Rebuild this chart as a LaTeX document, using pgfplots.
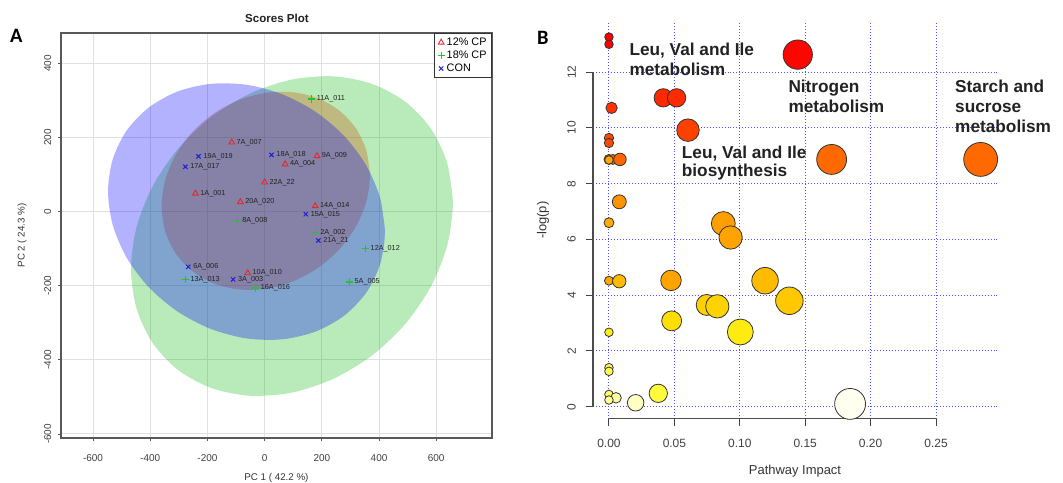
\documentclass[border=0pt]{standalone}
\usepackage{pgfplots}
\pgfplotsset{compat=1.18}
\usepackage{fontspec}
\setmainfont{Liberation Sans}
\newfontfamily\carlito{Carlito}
\definecolor{ellG}{RGB}{0,180,0}
\definecolor{ellR}{RGB}{200,80,10}
\definecolor{ellB}{RGB}{0,0,255}
\definecolor{mkR}{RGB}{230,40,40}
\definecolor{mkG}{RGB}{30,200,30}
\definecolor{mkB}{RGB}{30,30,220}
\definecolor{gridB}{RGB}{80,80,255}
\definecolor{txt}{RGB}{34,34,34}

\begin{document}
\begin{tikzpicture}
\path[use as bounding box] (0,0) rectangle (1063bp,483bp);

% ---------------- Panel A ----------------
\begin{axis}[
  at={(61bp,45bp)}, anchor=south west, scale only axis,
  width=431bp, height=405bp,
  xmin=-712, xmax=795, ymin=-611, ymax=482,
  xtick={-600,-400,-200,0,200,400,600}, ytick={-600,-400,-200,0,200,400},
  xticklabels={-600,-400,-200,0,200,400,600},
  yticklabels={-600,-400,-200,0,200,400},
  tick pos=left, tick align=outside, major tick length=3bp,
  tick style={black!65, line width=0.8pt},
  grid=major, major grid style={black!12, line width=0.9pt},
  axis line style={black!65, line width=1.2pt},
  ticklabel style={font=\fontsize{10}{12}\selectfont, text=black!75},
  xticklabel style={inner ysep=13pt},
  yticklabel style={rotate=90, anchor=south, inner ysep=6.5pt},
  xlabel={PC 1 ( 42.2 \%)}, ylabel={PC 2 ( 24.3 \%)},
  label style={font=\fontsize{9.8}{12}\selectfont, text=black!80},
  xlabel style={at={(axis description cs:0.5,-0.0988)}, anchor=center},
  ylabel style={at={(axis description cs:-0.0905,0.5)}, anchor=center},
  legend style={at={(1,1)}, anchor=north east, draw=black!80, line width=0.9pt,
    font=\fontsize{10.9}{12}\selectfont, inner xsep=3pt, inner ysep=2.5pt, row sep=0pt},
  legend cell align=left,
  legend image code/.code={\draw[#1] plot coordinates {(0.12cm,0cm)};},
  every node near coord/.append style={anchor=west, font=\fontsize{7.3}{8}\selectfont, text=txt, inner sep=0pt, xshift=4.5bp},
]
% green ellipse (18% CP)
\addplot[fill=ellG, fill opacity=0.275, draw=none, smooth, forget plot] coordinates {
(658.2,23.0) (639.0,129.3) (582.8,222.3) (493.4,295.6) (376.9,344.3) (241.1,365.0)
(95.5,356.4) (-50.1,319.0) (-185.9,255.3) (-302.4,169.8) (-391.8,68.1) (-448.0,-42.7)
(-467.2,-155.0) (-448.0,-261.3) (-391.8,-354.3) (-302.4,-427.6) (-185.9,-476.3) (-50.1,-497.0)
(95.5,-488.4) (241.1,-451.0) (376.9,-387.3) (493.4,-301.8) (582.8,-200.1) (639.0,-89.3)
(658.2,23.0) (639.0,129.3)};
% red ellipse (12% CP)
\addplot[fill=ellR, fill opacity=0.32, draw=none, smooth, forget plot] coordinates {
(368.2,97.6) (355.8,164.6) (319.4,224.2) (261.5,272.4) (186.1,305.9) (98.3,322.2)
(4.0,320.5) (-90.3,300.8) (-178.1,264.3) (-253.5,213.8) (-311.4,152.4) (-347.8,84.4)
(-360.2,14.6) (-347.8,-52.4) (-311.4,-112.0) (-253.5,-160.2) (-178.1,-193.7) (-90.3,-210.0)
(4.0,-208.3) (98.3,-188.6) (186.1,-152.1) (261.5,-101.6) (319.4,-40.2) (355.8,27.8)
(368.2,97.6) (355.8,164.6)};
% blue ellipse (CON)
\addplot[fill=ellB, fill opacity=0.3, draw=none, smooth, forget plot] coordinates {
(420.6,-54.5) (404.1,36.0) (355.7,124.0) (278.8,203.5) (178.6,269.1) (61.8,316.5)
(-63.5,342.3) (-188.8,344.7) (-305.6,323.7) (-405.8,280.5) (-482.7,218.4) (-531.1,141.2)
(-547.6,54.5) (-531.1,-36.0) (-482.7,-124.0) (-405.8,-203.5) (-305.6,-269.1) (-188.8,-316.5)
(-63.5,-342.3) (61.8,-344.7) (178.6,-323.7) (278.8,-280.5) (355.7,-218.4) (404.1,-141.2)
(420.6,-54.5) (404.1,36.0)};

\addplot[only marks, mark=triangle, mark size=3.3bp, mkR, mark options={line width=0.9pt},
  nodes near coords, point meta=explicit symbolic] coordinates {
(-115,187) [7A\_007]
(183,150) [9A\_009]
(72,128) [4A\_004]
(0,79) [22A\_22]
(-242,49) [1A\_001]
(-85,26) [20A\_020]
(177,15) [14A\_014]
(-59,-166) [10A\_010]
};
\addlegendentry{12\% CP}
\addplot[only marks, mark=+, mark size=3.6bp, mkG, mark options={line width=1.25pt},
  nodes near coords, point meta=explicit symbolic] coordinates {
(165,304) [11A\_011]
(-96,-25) [8A\_008]
(177,-57) [2A\_002]
(353,-100) [12A\_012]
(-277,-184) [13A\_013]
(297,-190) [5A\_005]
(-31,-206) [16A\_016]
};
\addlegendentry{18\% CP}
\addplot[only marks, mark=x, mark size=3bp, mkB, mark options={line width=1pt},
  nodes near coords, point meta=explicit symbolic] coordinates {
(-231,149) [19A\_019]
(24,153) [18A\_018]
(-277,121) [17A\_017]
(144,-7) [15A\_015]
(188,-78) [21A\_21]
(-267,-149) [6A\_006]
(-110,-183) [3A\_003]
};
\addlegendentry{CON}
\end{axis}

% ---------------- Panel B ----------------
\begin{axis}[
  at={(593bp,64.5bp)}, anchor=south west, scale only axis,
  width=404bp, height=396.5bp,
  xmin=-0.0122, xmax=0.2966, ymin=-0.423, ymax=13.8,
  clip=false,
  axis line style={draw=none},
  xtick={0,0.05,0.1,0.15,0.2,0.25},
  xticklabels={0.00,0.05,0.10,0.15,0.20,0.25},
  ytick={0,2,4,6,8,10,12}, yticklabels={0,2,4,6,8,10,12},
  tick pos=left, tick align=outside, major tick length=7bp,
  tick style={black!75, line width=1pt},
  grid=major, major grid style={gridB, line width=1pt, dash pattern=on 1pt off 2pt},
  ticklabel style={font=\fontsize{12}{14}\selectfont, text=black!75},
  xticklabel style={inner ysep=14pt},
  yticklabel style={rotate=90, anchor=south, inner ysep=10pt},
  xlabel={Pathway Impact}, ylabel={-log(p)},
  label style={font=\fontsize{13}{15}\selectfont, text=black!80},
  xlabel style={at={(axis description cs:0.5,-0.134)}, anchor=center},
  ylabel style={at={(axis description cs:-0.124,0.5)}, anchor=center},
  colormap={heat}{rgb255=(255,255,240) rgb255=(255,255,150) rgb255=(255,250,60)
    rgb255=(255,228,0) rgb255=(255,200,0) rgb255=(255,178,0) rgb255=(255,163,0)
    rgb255=(255,148,0) rgb255=(255,125,0) rgb255=(255,100,0) rgb255=(255,65,0)
    rgb255=(255,45,0) rgb255=(255,25,0) rgb255=(255,5,0) rgb255=(255,0,0)},
  point meta min=0, point meta max=14,
]
\draw[black!70, line width=1.2pt] (axis cs:0,-0.423) -- (axis cs:0.25,-0.423);
\draw[black!70, line width=1.2pt] (axis cs:-0.0122,0) -- (axis cs:-0.0122,12);
\addplot[scatter, only marks, mark=*,
  point meta=\thisrow{c},
  scatter/use mapped color={draw=black!80, fill=mapped color},
  visualization depends on={\thisrow{r} \as \rad},
  scatter/@pre marker code/.append style={/tikz/mark size=\rad},
  mark options={line width=0.8pt}]
  table[x=x, y=y] {
x y r c
0.0000 13.26 4.3 14
0.0000 13.00 4.3 14
0.0020 10.72 5.7 10.7
0.0000 9.64 4.7 9.8
0.0000 9.46 4.7 9.8
0.0000 8.87 5 9.0
0.0030 8.87 5 8.9
0.0084 8.87 6.3 8.9
0.0000 8.85 4.3 5.8
0.0079 7.35 7 7
0.0000 6.60 5 5.5
0.0000 4.52 4.5 5.8
0.0079 4.50 6.7 4.6
0.0000 2.67 4.3 2.6
0.0000 1.40 4.3 1.8
0.0000 1.27 4.3 1.8
0.0000 0.44 4.3 1.5
0.0054 0.32 5.3 0.9
0.0000 0.24 4.3 1.0
0.0204 0.14 8.3 0.5
0.0377 0.48 9.2 2
0.0415 11.08 9.2 11.2
0.0517 11.08 9.2 11.1
0.0474 4.53 10.3 6
0.0479 3.08 10 3.2
0.0604 9.92 11.3 10
0.0747 3.65 10.5 3.7
0.0828 3.60 11.7 3.6
0.0874 6.57 12 6.3
0.0930 6.07 11.7 6
0.1004 2.68 13 2.7
0.1193 4.52 13.3 4.6
0.1379 3.80 13.8 4
0.1443 12.63 14.7 13
0.1702 8.87 15 8.8
0.1843 0.10 15.5 0
0.2841 8.87 17 8.8
};
\end{axis}

% ---------------- texts ----------------
\node[font=\bfseries\fontsize{11.6}{13}\selectfont, text=txt, anchor=base] at (277bp,{(483-22.5)*1bp}) {Scores Plot};
\node[font=\carlito\bfseries\fontsize{20.5}{22}\selectfont, anchor=base west, inner sep=0pt] at (10bp,{(483-42.7)*1bp}) {A};
\node[font=\carlito\bfseries\fontsize{20.5}{22}\selectfont, anchor=base west, inner sep=0pt] at (537bp,{(483-45)*1bp}) {B};

\begin{scope}[every node/.style={font=\bfseries\fontsize{17.3}{20}\selectfont, text=txt, anchor=base west, inner sep=0pt}]
\node at (629.3bp,{(483-56)*1bp}) {Leu, Val and Ile};
\node at (629.3bp,{(483-75.7)*1bp}) {metabolism};
\node at (788.3bp,{(483-92.7)*1bp}) {Nitrogen};
\node at (788.3bp,{(483-112.7)*1bp}) {metabolism};
\node at (955bp,{(483-92.3)*1bp}) {Starch and};
\node at (955bp,{(483-112.3)*1bp}) {sucrose};
\node at (955bp,{(483-132.7)*1bp}) {metabolism};
\node at (681.7bp,{(483-158.3)*1bp}) {Leu, Val and Ile};
\node at (681.7bp,{(483-176)*1bp}) {biosynthesis};
\end{scope}
\end{tikzpicture}
\end{document}
